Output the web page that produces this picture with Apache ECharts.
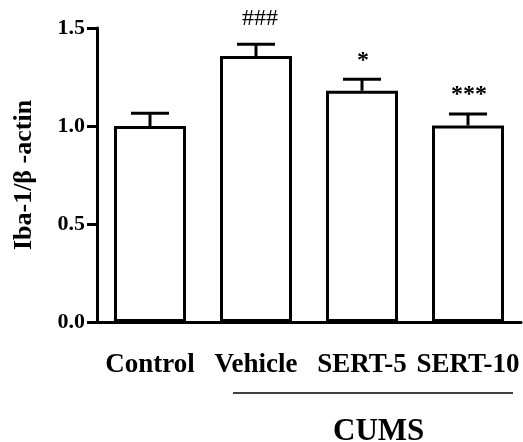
<!DOCTYPE html>
<html>
<head>
<meta charset="utf-8">
<script src="https://cdn.jsdelivr.net/npm/echarts@6/dist/echarts.min.js"></script>
<style>
  html, body { margin: 0; padding: 0; background: #fff; }
  #chart { width: 523px; height: 442px; }
</style>
</head>
<body>
<div id="chart"></div>
<script>
// data
var categories = ['Control', 'Vehicle', 'SERT-5', 'SERT-10'];
var means = [1.0, 1.357, 1.18, 1.003];
var sems = [0.065, 0.06, 0.058, 0.058];
var marks = ['', '###', '*', '***'];
var yTicks = [0, 0.5, 1.0, 1.5];

var serif = '"Liberation Serif", "Times New Roman", serif';

var errData = [];
for (let i = 0; i < categories.length; i++) {
  errData.push([i, means[i], sems[i]]);
}

var myChart = echarts.init(document.getElementById('chart'));
myChart.setOption({
  animation: false,
  grid: { left: 97, right: 2, top: 28, bottom: 120, containLabel: false, outerBoundsMode: 'none' },
  xAxis: {
    type: 'category',
    data: categories,
    axisLine: { lineStyle: { color: '#000', width: 3 } },
    axisTick: { show: false },
    axisLabel: {
      interval: 0,
      margin: 30,
      color: '#000',
      fontFamily: serif,
      fontWeight: 'bold',
      fontSize: 27
    }
  },
  yAxis: {
    type: 'value',
    min: yTicks[0],
    max: yTicks[yTicks.length - 1],
    interval: 0.5,
    name: 'Iba-1/β -actin',
    nameLocation: 'middle',
    nameRotate: 90,
    nameGap: 60,
    nameTextStyle: { color: '#000', fontFamily: serif, fontWeight: 'bold', fontSize: 26 },
    splitLine: { show: false },
    axisLine: { show: true, lineStyle: { color: '#000', width: 3 } },
    axisTick: { show: true, length: 10, lineStyle: { color: '#000', width: 3 } },
    axisLabel: {
      margin: 12,
      color: '#000',
      fontFamily: serif,
      fontWeight: 'bold',
      fontSize: 22,
      formatter: function (v) { return v.toFixed(1); }
    }
  },
  series: [
    {
      type: 'bar',
      data: means,
      barWidth: 72,
      itemStyle: { color: '#fff', borderColor: '#000', borderWidth: 3 }
    },
    {
      type: 'custom',
      data: errData,
      z: 5,
      renderItem: function (params, api) {
        var i = api.value(0);
        var m = api.value(1);
        var e = api.value(2);
        var base = api.coord([i, m]);
        var top = api.coord([i, m + e]);
        var hw = 19;
        var mk = marks[i];
        var isHash = mk.indexOf('#') >= 0;
        return {
          type: 'group',
          children: [
            { type: 'line', shape: { x1: base[0], y1: base[1], x2: top[0], y2: top[1] },
              style: { stroke: '#000', lineWidth: 3 } },
            { type: 'line', shape: { x1: top[0] - hw, y1: top[1], x2: top[0] + hw, y2: top[1] },
              style: { stroke: '#000', lineWidth: 3 } },
            { type: 'text',
              style: {
                x: top[0] + (isHash ? 4 : 1),
                y: top[1] - (isHash ? 26 : 19),
                text: mk,
                textAlign: 'center',
                textVerticalAlign: 'middle',
                fill: '#000',
                fontFamily: serif,
                fontWeight: isHash ? 'normal' : 'bold',
                fontSize: 24
              } }
          ]
        };
      }
    }
  ],
  graphic: [
    { type: 'line', shape: { x1: 233, y1: 393, x2: 513, y2: 393 },
      style: { stroke: '#000', lineWidth: 1.5 } },
    { type: 'text', left: 333, top: 416,
      style: { text: 'CUMS', fill: '#000', fontFamily: serif, fontWeight: 'bold', fontSize: 31 } }
  ]
});
</script>
</body>
</html>
